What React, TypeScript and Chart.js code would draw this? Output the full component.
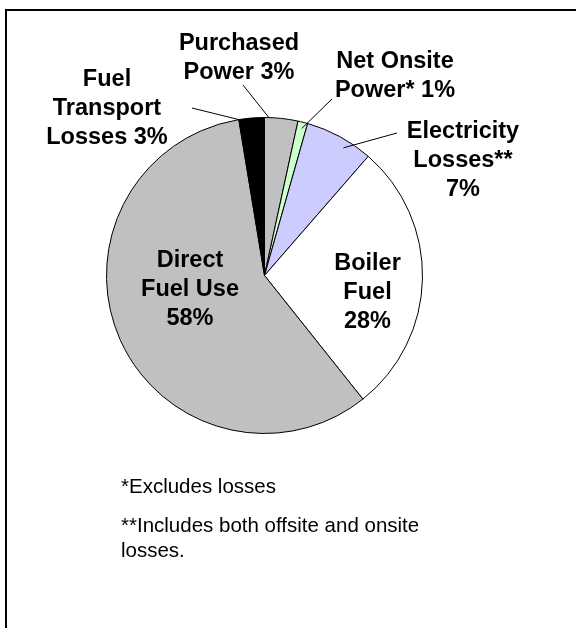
import React, { useEffect, useRef } from "react";
import { Chart, registerables } from "chart.js";

Chart.register(...registerables);

// ---- data ----
const categories = [
  "Purchased Power",
  "Net Onsite Power*",
  "Electricity Losses**",
  "Boiler Fuel",
  "Direct Fuel Use",
  "Fuel Transport Losses",
];
const labelLines = [
  ["Purchased", "Power {v}"],
  ["Net Onsite", "Power* {v}"],
  ["Electricity", "Losses**", "{v}"],
  ["Boiler", "Fuel", "{v}"],
  ["Direct", "Fuel Use", "{v}"],
  ["Fuel", "Transport", "Losses {v}"],
];
const shares = [3.4, 1.0, 7.0, 27.9, 58.1, 2.6];
const sliceColors = ["#C0C0C0", "#CCFFCC", "#CCCCFF", "#FFFFFF", "#C0C0C0", "#000000"];
const footnotes = ["*Excludes losses", "**Includes both offsite and onsite", "losses."];

// ---- layout (label anchors relative to pie centre) ----
const labelAnchors = [
  { dx: -25.5, dy: -225.5 },
  { dx: 130.5, dy: -207.5 },
  { dx: 198.5, dy: -137.5 },
  { dx: 103, dy: -5.5 },
  { dx: -74.5, dy: -8.5 },
  { dx: -157.5, dy: -190 },
];
// leader lines: start relative to centre, end as fraction along slice angle and radius
const leaders: ({ sx: number; sy: number; t: number; r: number } | null)[] = [
  { sx: -21.5, sy: -190.5, t: 0.13, r: 1.0 },
  { sx: 67.5, sy: -176.5, t: 0.55, r: 0.96 },
  { sx: 132.5, sy: -142.5, t: 0.63, r: 0.95 },
  null,
  null,
  { sx: -72.5, sy: -167.5, t: 0.0, r: 1.0 },
];
const footnoteX = 121;
const footnoteBaselines = [493, 532, 557];

const labelPlugin = {
  id: "pieLabels",
  afterDraw(chart: any) {
    const ctx = chart.ctx;
    const meta = chart.getDatasetMeta(0);
    const arcs = meta.data;
    if (!arcs.length) return;
    const cx = arcs[0].x;
    const cy = arcs[0].y;
    ctx.save();
    // leader lines
    ctx.strokeStyle = "#000";
    ctx.lineWidth = 1;
    leaders.forEach((ld, i) => {
      if (!ld) return;
      const a: any = arcs[i];
      const ang = a.startAngle + ld.t * (a.endAngle - a.startAngle);
      const rr = a.outerRadius * ld.r;
      ctx.beginPath();
      ctx.moveTo(cx + ld.sx, cy + ld.sy);
      ctx.lineTo(cx + Math.cos(ang) * rr, cy + Math.sin(ang) * rr);
      ctx.stroke();
    });
    // slice labels
    ctx.fillStyle = "#000";
    ctx.textAlign = "center";
    ctx.textBaseline = "alphabetic";
    ctx.font = "bold 23.5px 'Liberation Sans', Arial, sans-serif";
    const lh = 29;
    labelLines.forEach((lines, i) => {
      const v = Math.round(shares[i]) + "%";
      const p = labelAnchors[i];
      lines.forEach((ln, j) => {
        ctx.fillText(ln.replace("{v}", v), cx + p.dx, cy + p.dy + j * lh);
      });
    });
    // footnotes
    ctx.textAlign = "left";
    ctx.font = "20.5px 'Liberation Sans', Arial, sans-serif";
    footnotes.forEach((t, i) => ctx.fillText(t, footnoteX, footnoteBaselines[i]));
    ctx.restore();
  },
};

export default function App() {
  const ref = useRef<HTMLCanvasElement | null>(null);
  useEffect(() => {
    if (!ref.current) return;
    const chart = new Chart(ref.current, {
      type: "pie",
      data: {
        labels: categories,
        datasets: [
          {
            data: shares,
            backgroundColor: sliceColors,
            borderColor: "#000000",
            borderWidth: 1,
          },
        ],
      },
      options: {
        responsive: false,
        animation: false,
        devicePixelRatio: 1,
        radius: 158,
        layout: { padding: { left: 0, right: 47, top: 0, bottom: 77 } },
        plugins: {
          legend: { display: false },
          tooltip: { enabled: false },
        },
      } as any,
      plugins: [labelPlugin],
    });
    return () => chart.destroy();
  }, []);
  return (
    <div
      style={{
        position: "absolute",
        left: 0,
        top: 0,
        width: 576,
        height: 628,
        overflow: "hidden",
        background: "#fff",
      }}
    >
      <div
        style={{
          position: "absolute",
          left: 5,
          top: 9,
          width: 600,
          height: 650,
          borderLeft: "2px solid #000",
          borderTop: "2px solid #000",
        }}
      />
      <canvas
        ref={ref}
        width={576}
        height={628}
        style={{ position: "absolute", left: 0, top: 0, width: 576, height: 628 }}
      />
    </div>
  );
}
